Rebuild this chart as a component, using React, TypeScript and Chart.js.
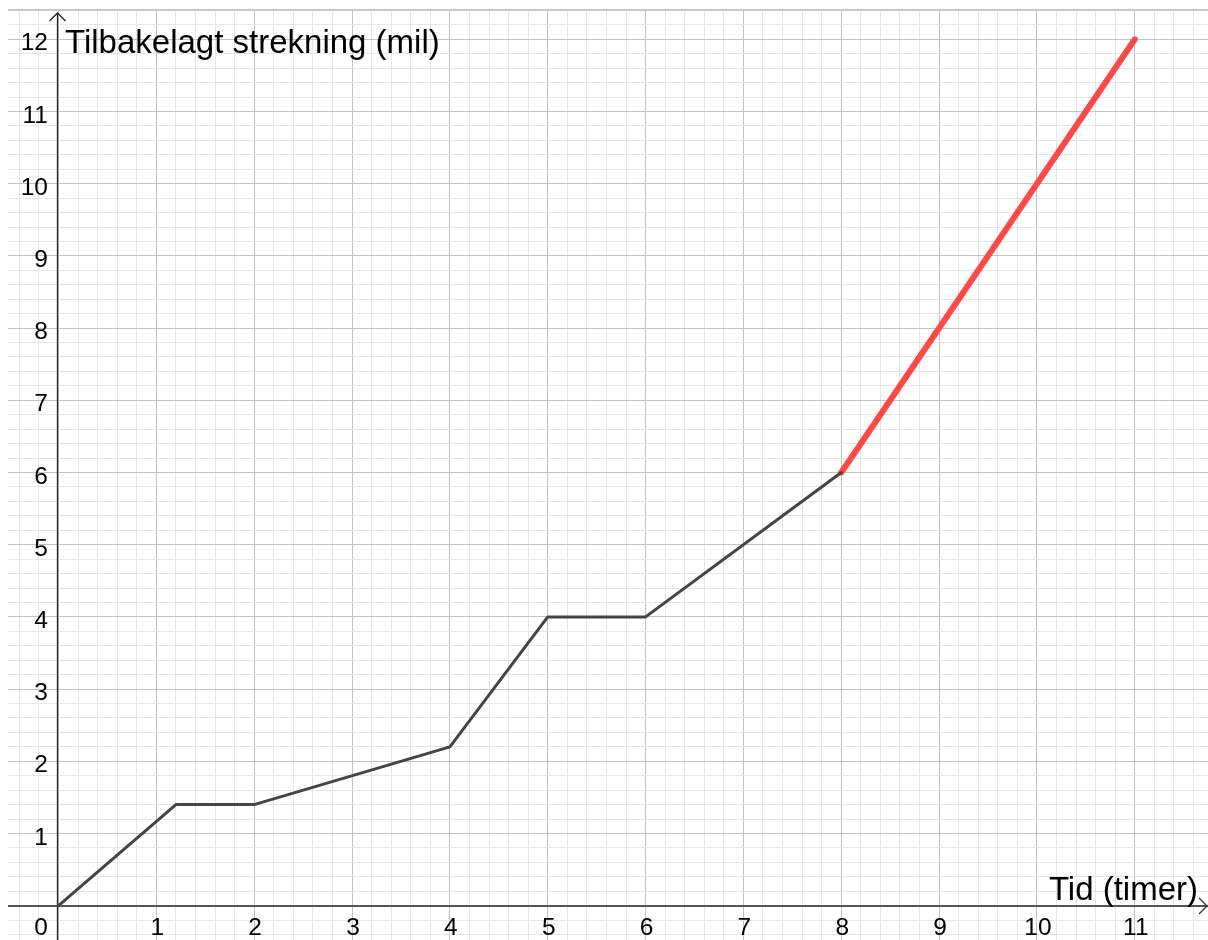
import { useEffect, useRef } from 'react';
import { Chart, registerables } from 'chart.js';

Chart.register(...registerables);

// Data
const hours = [0, 1.2, 2, 4, 5, 6, 8];
const distance = [0, 1.4, 1.4, 2.2, 4, 4, 6];
const fastHours = [8, 11];
const fastDistance = [6, 12];

// Tick labels
const xTickValues = [1, 2, 3, 4, 5, 6, 7, 8, 9, 10, 11];
const yTickValues = [1, 2, 3, 4, 5, 6, 7, 8, 9, 10, 11, 12];
const originLabel = '0';
const xAxisTitle = 'Tid (timer)';
const yAxisTitle = 'Tilbakelagt strekning (mil)';

const X_MIN = -0.516;
const X_MAX = 11.748;
const Y_MIN = -0.475;
const Y_MAX = 12.392;
const MINOR_STEP = 0.2;

const FONT = '"Liberation Sans", Arial, sans-serif';

function gridValues(min: number, max: number, step: number): number[] {
  const out: number[] = [];
  const start = Math.ceil(min / step);
  const end = Math.floor(max / step);
  for (let i = start; i <= end; i++) out.push(Math.round(i * step * 1000) / 1000);
  return out;
}

const isMajor = (v: number) => Math.abs(v - Math.round(v)) < 1e-6;

const geoPlugin = {
  id: 'geoAxes',
  beforeDatasetsDraw(chart: any) {
    const { ctx, chartArea, scales } = chart;
    const xs = scales.x;
    const ys = scales.y;
    const x0 = Math.round(xs.getPixelForValue(0)) - 0.5;
    const y0 = Math.round(ys.getPixelForValue(0));
    ctx.save();
    // x axis
    ctx.strokeStyle = '#555555';
    ctx.lineWidth = 2;
    ctx.beginPath();
    ctx.moveTo(chartArea.left, y0);
    ctx.lineTo(chartArea.right, y0);
    ctx.stroke();
    // x arrow
    ctx.lineWidth = 1.3;
    ctx.strokeStyle = '#333333';
    ctx.beginPath();
    ctx.moveTo(chartArea.right - 9, y0 - 8);
    ctx.lineTo(chartArea.right - 1, y0);
    ctx.lineTo(chartArea.right - 9, y0 + 8);
    ctx.stroke();
    // y axis
    ctx.strokeStyle = '#222222';
    ctx.lineWidth = 1.3;
    ctx.beginPath();
    ctx.moveTo(x0, chartArea.bottom);
    ctx.lineTo(x0, chartArea.top + 2);
    ctx.stroke();
    // y arrow
    ctx.lineWidth = 1.3;
    ctx.beginPath();
    ctx.moveTo(x0 - 8, chartArea.top + 10);
    ctx.lineTo(x0, chartArea.top + 2);
    ctx.lineTo(x0 + 8, chartArea.top + 10);
    ctx.stroke();

    // tick labels
    ctx.fillStyle = '#000000';
    ctx.font = `24.5px ${FONT}`;
    ctx.textAlign = 'center';
    ctx.textBaseline = 'alphabetic';
    xTickValues.forEach((v) => {
      ctx.fillText(String(v), xs.getPixelForValue(v) + 1, 935);
    });
    ctx.textAlign = 'right';
    yTickValues.forEach((v) => {
      ctx.fillText(String(v), 48, ys.getPixelForValue(v) + 11);
    });
    ctx.fillText(originLabel, 48, 935);

    // axis titles
    ctx.font = `33px ${FONT}`;
    ctx.textAlign = 'left';
    ctx.fillText(yAxisTitle, 65, 53);
    ctx.textAlign = 'right';
    ctx.fillText(xAxisTitle, 1198, 900);
    ctx.restore();
  },
  afterDraw(chart: any) {
    const { ctx, chartArea } = chart;
    ctx.save();
    ctx.strokeStyle = '#c8c8c8';
    ctx.lineWidth = 2;
    ctx.beginPath();
    ctx.moveTo(chartArea.left, chartArea.top - 1);
    ctx.lineTo(chartArea.right, chartArea.top - 1);
    ctx.stroke();
    ctx.restore();
  },
};

export default function App() {
  const canvasRef = useRef<HTMLCanvasElement | null>(null);

  useEffect(() => {
    if (!canvasRef.current) return;
    const gridColor = (c: any) =>
      c.tick && isMajor(c.tick.value) ? 'rgb(194,194,194)' : 'rgb(230,230,230)';
    const chart = new Chart(canvasRef.current, {
      type: 'scatter',
      data: {
        datasets: [
          {
            data: hours.map((h, i) => ({ x: h, y: distance[i] })),
            showLine: true,
            borderColor: '#444444',
            borderWidth: 3,
            pointRadius: 0,
            borderJoinStyle: 'round',
            borderCapStyle: 'round',
          },
          {
            data: fastHours.map((h, i) => ({ x: h, y: fastDistance[i] })),
            showLine: true,
            borderColor: '#ff4848',
            borderWidth: 6,
            pointRadius: 0,
            borderCapStyle: 'round',
          },
        ],
      },
      options: {
        responsive: false,
        animation: false,
        layout: { padding: { left: 8, top: 11, right: 0, bottom: 0 } },
        plugins: { legend: { display: false }, tooltip: { enabled: false } },
        scales: {
          x: {
            type: 'linear',
            min: X_MIN,
            max: X_MAX,
            afterBuildTicks: (s: any) => {
              s.ticks = gridValues(X_MIN, X_MAX, MINOR_STEP).map((v) => ({ value: v }));
            },
            ticks: { display: false },
            border: { display: false },
            grid: { color: gridColor, lineWidth: 1, drawTicks: false },
          },
          y: {
            type: 'linear',
            min: Y_MIN,
            max: Y_MAX,
            afterBuildTicks: (s: any) => {
              s.ticks = gridValues(Y_MIN, Y_MAX, MINOR_STEP).map((v) => ({ value: v }));
            },
            ticks: { display: false },
            border: { display: false },
            grid: { color: gridColor, lineWidth: 1, drawTicks: false },
          },
        },
      },
      plugins: [geoPlugin],
    });
    return () => chart.destroy();
  }, []);

  return (
    <div style={{ position: 'absolute', left: 0, top: 0, width: 1208, height: 940, background: '#ffffff' }}>
      <canvas ref={canvasRef} width={1208} height={940} style={{ display: 'block' }} />
    </div>
  );
}
